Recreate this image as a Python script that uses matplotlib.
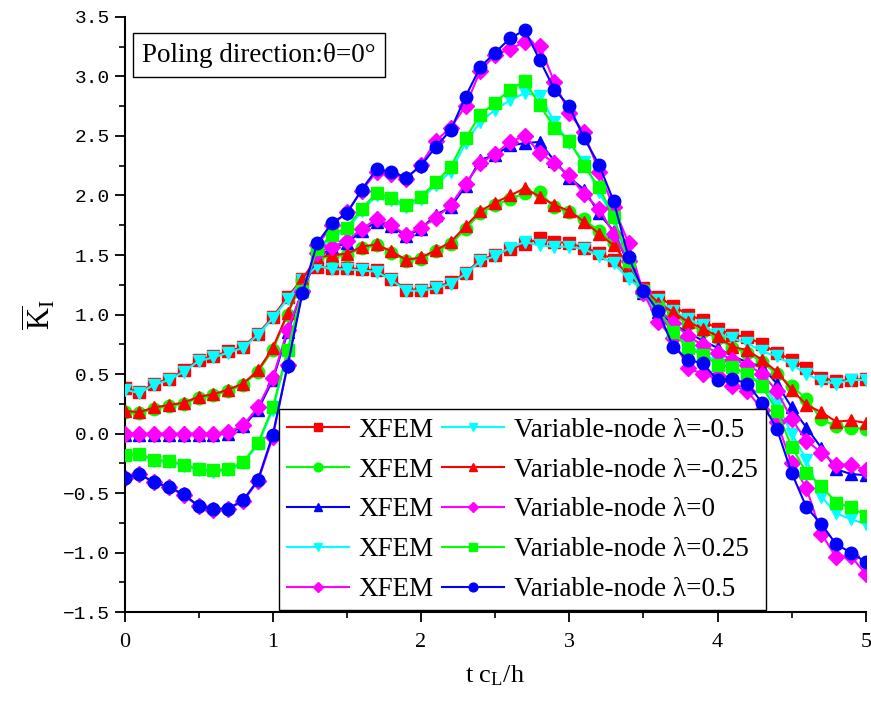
import numpy as np
import matplotlib
matplotlib.use("Agg")
import matplotlib.pyplot as plt
import matplotlib.ticker as mticker

plt.rcParams["font.family"] = ["Liberation Serif", "DejaVu Serif"]
plt.rcParams["mathtext.fontset"] = "custom"
plt.rcParams["mathtext.rm"] = "Liberation Serif"
plt.rcParams["mathtext.it"] = "Liberation Serif"

# time axis t c_L / h
t = np.round(np.arange(0, 5.01, 0.1), 1)

# Variable-node results
vn_m050 = [0.37, 0.34, 0.41, 0.45, 0.52, 0.61, 0.64, 0.68, 0.72, 0.83, 0.97,
           1.13, 1.29, 1.41, 1.38, 1.38, 1.37, 1.36, 1.29, 1.20, 1.20,
           1.22, 1.26, 1.34, 1.45, 1.49, 1.56, 1.61, 1.58, 1.57, 1.57,
           1.55, 1.49, 1.43, 1.30, 1.20, 1.12, 1.03, 0.96, 0.91, 0.84,
           0.80, 0.76, 0.69, 0.65, 0.58, 0.50, 0.44, 0.42, 0.45, 0.45]
vn_m025 = [0.19, 0.18, 0.22, 0.24, 0.26, 0.31, 0.33, 0.37, 0.42, 0.53, 0.72,
           1.01, 1.30, 1.48, 1.50, 1.51, 1.57, 1.59, 1.53, 1.46, 1.48,
           1.54, 1.61, 1.74, 1.87, 1.94, 2.00, 2.06, 1.99, 1.92, 1.87,
           1.78, 1.68, 1.58, 1.42, 1.22, 1.10, 1.02, 0.94, 0.88, 0.82,
           0.73, 0.70, 0.62, 0.52, 0.37, 0.24, 0.18, 0.10, 0.11, 0.09]
vn_0 = [0.00, 0.00, 0.00, 0.00, 0.00, 0.00, 0.00, 0.01, 0.07, 0.22, 0.47,
        0.87, 1.20, 1.52, 1.57, 1.62, 1.72, 1.80, 1.75, 1.67, 1.73,
        1.81, 1.92, 2.10, 2.27, 2.35, 2.45, 2.50, 2.36, 2.27, 2.17,
        2.01, 1.89, 1.68, 1.45, 1.20, 1.05, 0.93, 0.82, 0.74, 0.68,
        0.62, 0.58, 0.50, 0.36, 0.12, -0.06, -0.16, -0.26, -0.26, -0.31]
vn_p025 = [-0.18, -0.17, -0.22, -0.23, -0.26, -0.30, -0.31, -0.30, -0.24, -0.08, 0.22,
           0.70, 1.20, 1.55, 1.67, 1.73, 1.89, 2.02, 1.98, 1.92, 1.99,
           2.11, 2.24, 2.48, 2.68, 2.78, 2.89, 2.96, 2.76, 2.57, 2.46,
           2.25, 2.07, 1.82, 1.45, 1.20, 1.05, 0.85, 0.72, 0.66, 0.58,
           0.56, 0.50, 0.40, 0.19, -0.11, -0.33, -0.44, -0.58, -0.62, -0.69]
vn_p050 = [-0.37, -0.34, -0.41, -0.45, -0.51, -0.61, -0.63, -0.63, -0.56, -0.39, -0.01,
           0.57, 1.18, 1.60, 1.77, 1.85, 2.05, 2.22, 2.20, 2.15, 2.25,
           2.41, 2.55, 2.83, 3.08, 3.20, 3.32, 3.39, 3.14, 2.89, 2.75,
           2.48, 2.26, 1.95, 1.48, 1.20, 1.03, 0.73, 0.62, 0.59, 0.45,
           0.46, 0.42, 0.26, 0.04, -0.33, -0.62, -0.76, -0.93, -1.00, -1.08]

# XFEM results
xf_m050 = [0.38, 0.35, 0.42, 0.46, 0.53, 0.62, 0.65, 0.69, 0.73, 0.84, 0.98,
           1.15, 1.30, 1.40, 1.39, 1.39, 1.38, 1.37, 1.30, 1.21, 1.21,
           1.23, 1.27, 1.35, 1.46, 1.50, 1.55, 1.59, 1.64, 1.61, 1.60,
           1.56, 1.52, 1.46, 1.33, 1.22, 1.15, 1.07, 1.00, 0.95, 0.88,
           0.83, 0.81, 0.75, 0.68, 0.62, 0.55, 0.47, 0.44, 0.45, 0.46]
xf_m025 = [0.18, 0.17, 0.21, 0.23, 0.25, 0.30, 0.32, 0.36, 0.41, 0.52, 0.70,
           1.00, 1.29, 1.47, 1.49, 1.50, 1.56, 1.58, 1.52, 1.45, 1.47,
           1.53, 1.59, 1.72, 1.85, 1.92, 1.97, 2.02, 2.03, 1.90, 1.86,
           1.80, 1.70, 1.60, 1.40, 1.21, 1.08, 1.00, 0.92, 0.86, 0.80,
           0.72, 0.68, 0.60, 0.50, 0.40, 0.29, 0.12, 0.06, 0.05, 0.04]
xf_0 = [-0.01, -0.01, -0.01, -0.01, -0.01, -0.01, -0.01, 0.00, 0.06, 0.20, 0.45,
        0.85, 1.20, 1.48, 1.56, 1.60, 1.70, 1.78, 1.74, 1.66, 1.72,
        1.84, 1.90, 2.08, 2.30, 2.34, 2.42, 2.44, 2.45, 2.29, 2.15,
        2.05, 1.85, 1.70, 1.42, 1.18, 1.02, 0.92, 0.85, 0.78, 0.72,
        0.65, 0.60, 0.56, 0.42, 0.22, 0.05, -0.12, -0.30, -0.34, -0.35]
xf_p025 = [-0.19, -0.18, -0.23, -0.24, -0.27, -0.31, -0.32, -0.31, -0.25, -0.09, 0.20,
           0.68, 1.19, 1.53, 1.65, 1.71, 1.87, 2.00, 1.96, 1.90, 1.97,
           2.09, 2.20, 2.44, 2.62, 2.72, 2.80, 2.86, 2.84, 2.62, 2.44,
           2.28, 2.03, 1.80, 1.40, 1.18, 1.00, 0.88, 0.74, 0.68, 0.60,
           0.55, 0.50, 0.42, 0.25, 0.00, -0.22, -0.53, -0.67, -0.72, -0.76]
xf_p050 = [-0.37, -0.34, -0.41, -0.45, -0.52, -0.61, -0.64, -0.63, -0.57, -0.40, -0.03,
           0.58, 1.20, 1.58, 1.75, 1.86, 2.04, 2.20, 2.18, 2.14, 2.26,
           2.46, 2.57, 2.75, 3.05, 3.18, 3.23, 3.29, 3.26, 2.95, 2.69,
           2.53, 2.20, 1.90, 1.60, 1.18, 0.94, 0.80, 0.55, 0.50, 0.48,
           0.40, 0.36, 0.20, 0.10, -0.25, -0.46, -0.84, -1.04, -1.03, -1.18]

xfem = [xf_m050, xf_m025, xf_0, xf_p025, xf_p050]
xfem_style = [("#ff0000", "s"), ("#00ff00", "o"), ("#0000ff", "^"),
              ("#00ffff", "v"), ("#ff00ff", "D")]
vnode = [vn_m050, vn_m025, vn_0, vn_p025, vn_p050]
vnode_style = [("#00ffff", "v"), ("#ff0000", "^"), ("#ff00ff", "D"),
               ("#00ff00", "s"), ("#0000ff", "o")]
lam_labels = ["-0.5", "-0.25", "0", "0.25", "0.5"]

fig = plt.figure(figsize=(8.71, 7.06), dpi=100)
ax = fig.add_axes([0.143, 0.133, 0.851, 0.843])

for ys, (c, m) in zip(xfem, xfem_style):
    ms = 8 if m == "D" else 9
    ax.plot(t, ys, color=c, marker=m, ms=ms, lw=1.5, label="XFEM", zorder=2)
for ys, (c, m), lb in zip(vnode, vnode_style, lam_labels):
    ms = 8 if m == "D" else 9
    ax.plot(t, ys, color=c, marker=m, ms=ms, lw=1.5,
            label="Variable-node \u03bb=" + lb, zorder=3)

ax.set_xlim(0, 5)
ax.set_ylim(-1.5, 3.5)
ax.xaxis.set_major_locator(mticker.MultipleLocator(1))
ax.xaxis.set_minor_locator(mticker.MultipleLocator(0.5))
ax.yaxis.set_major_locator(mticker.MultipleLocator(0.5))
ax.yaxis.set_minor_locator(mticker.MultipleLocator(0.25))
ax.yaxis.set_major_formatter(mticker.FuncFormatter(
    lambda v, p: ("\u2212" if v < -1e-9 else "") + "%.1f" % abs(v)))

ax.spines["top"].set_visible(False)
ax.spines["right"].set_visible(False)
ax.spines["left"].set_linewidth(1.5)
ax.spines["bottom"].set_linewidth(1.5)
ax.tick_params(which="major", direction="out", length=7, width=1.3)
ax.tick_params(which="minor", direction="out", length=4, width=1.2)
ax.tick_params(axis="x", labelsize=16, pad=8)
ax.tick_params(axis="y", labelsize=14)
for lbl in ax.get_yticklabels():
    lbl.set_family("Liberation Mono")

ax.set_xlabel("t c$_\\mathrm{L}$/h", fontsize=19, labelpad=8)
ax.set_ylabel("$\\overline{\\mathrm{K}}_\\mathrm{I}$", fontsize=22, labelpad=4)

ax.text(0.024, 0.957, "Poling direction:\u03b8=0\u00b0", transform=ax.transAxes,
        fontsize=19.5, va="top", ha="left",
        bbox=dict(boxstyle="square,pad=0.35", fc="white", ec="black", lw=1))

leg = ax.legend(ncol=2, loc="lower left", bbox_to_anchor=(0.208, 0.003),
                borderaxespad=0, fontsize=19.5, markerscale=0.7,
                handlelength=2.3, handletextpad=0.35, columnspacing=0.3,
                labelspacing=0.55, borderpad=0.3, fancybox=False,
                framealpha=1, edgecolor="black")
leg.get_frame().set_linewidth(1.0)
leg.set_zorder(5)

fig.savefig("out.png", dpi=100)
